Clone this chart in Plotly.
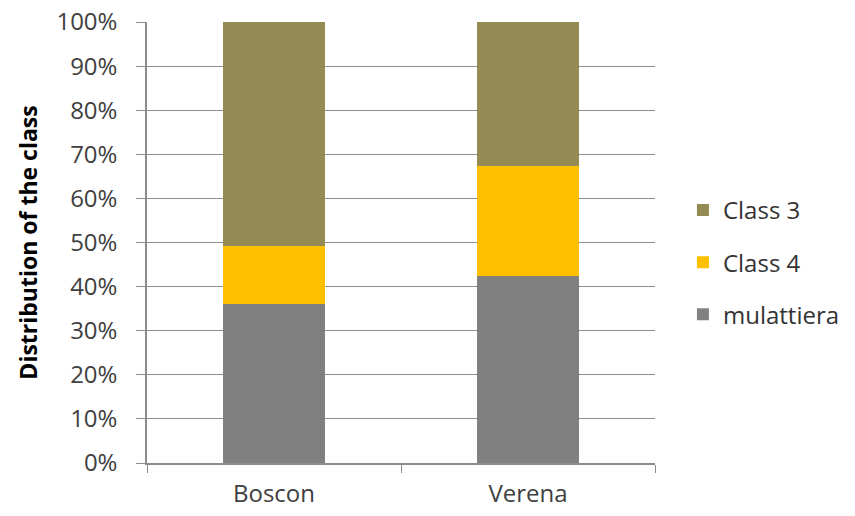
import plotly.graph_objects as go

categories = ["Boscon", "Verena"]
mulattiera = [0.36, 0.423]
class4 = [0.133, 0.251]
class3 = [0.507, 0.326]
y_ticks = [0, 0.1, 0.2, 0.3, 0.4, 0.5, 0.6, 0.7, 0.8, 0.9, 1.0]
y_tick_labels = ["0%", "10%", "20%", "30%", "40%", "50%", "60%", "70%", "80%", "90%", "100%"]

FONT = "Open Sans"
fig = go.Figure()
fig.add_trace(go.Bar(x=categories, y=mulattiera, name="mulattiera", marker_color="#808080",
                     marker_line_width=0, legendgroup="m", legendrank=3))
fig.add_trace(go.Bar(x=categories, y=class4, name="Class 4", marker_color="#FFC000",
                     marker_line_width=0, legendgroup="c4", legendrank=2))
fig.add_trace(go.Bar(x=categories, y=class3, name="Class 3", marker_color="#948A54",
                     marker_line_width=0, legendgroup="c3", legendrank=1))

fig.update_layout(
    barmode="stack",
    bargap=0.6,
    width=855, height=516,
    margin=dict(l=147, r=200, t=22, b=53, autoexpand=False),
    plot_bgcolor="white", paper_bgcolor="white",
    font=dict(family=FONT, size=24, color="#404040"),
    legend=dict(x=1.055, y=0.455, xanchor="left", yanchor="middle",
                traceorder="grouped", tracegroupgap=18,
                font=dict(family=FONT, size=24, color="#333333")),
    xaxis=dict(showline=True, linecolor="#8c8c8c", linewidth=1.5,
               ticks="outside", tickson="boundaries", ticklen=8, tickcolor="#8c8c8c",
               ticklabelstandoff=8,
               tickfont=dict(size=24, color="#404040")),
    yaxis=dict(range=[0, 1.0], tickvals=y_ticks, ticktext=y_tick_labels,
               showgrid=True, gridcolor="#8c8c8c", gridwidth=1.2,
               showline=True, linecolor="#8c8c8c", linewidth=1.5,
               ticks="outside", ticklen=9, tickcolor="#8c8c8c",
               ticklabelstandoff=14,
               zeroline=False, automargin=False,
               tickfont=dict(size=24, color="#404040"),
               title=dict(text="<b>Distribution of the class</b>",
                          font=dict(size=23, color="#000000"), standoff=12)),
)

fig.write_html("out.html")
